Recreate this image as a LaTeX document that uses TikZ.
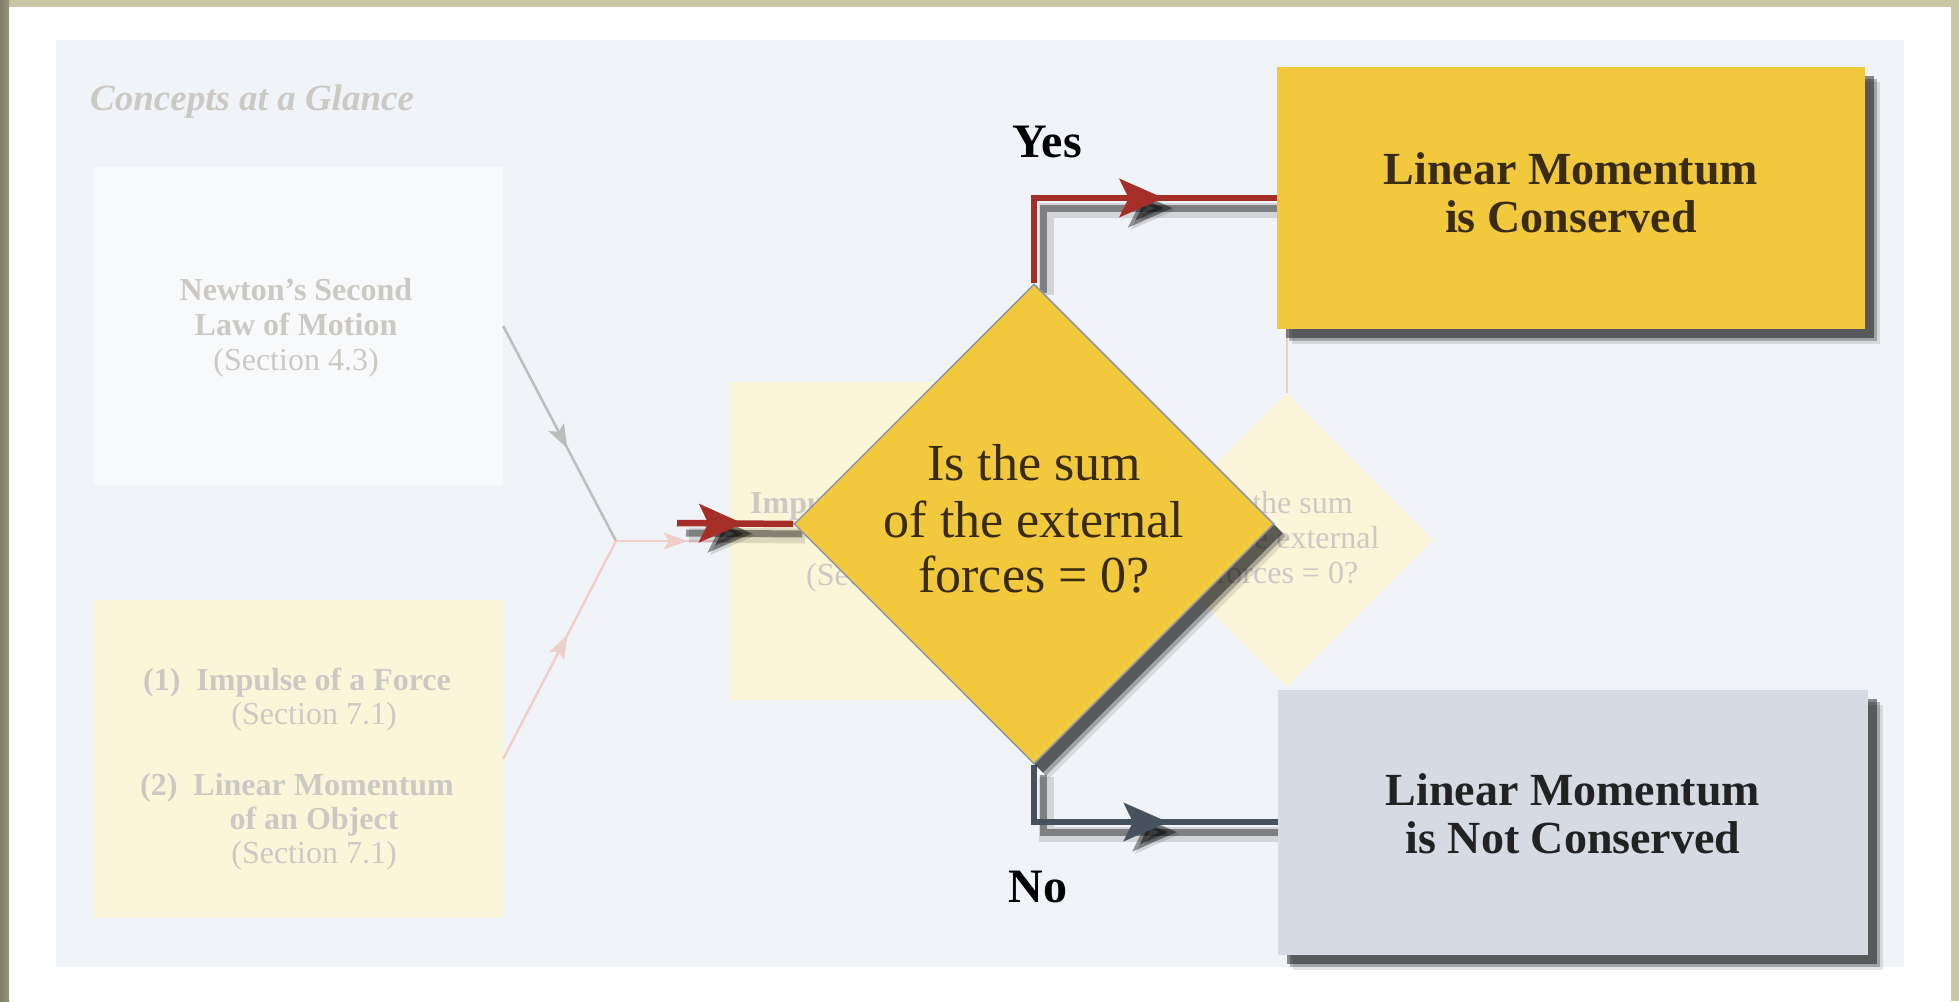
\documentclass[tikz,border=0pt]{standalone}
\usepackage{fontspec}
\setmainfont{Liberation Serif}
\usetikzlibrary{shapes.geometric,arrows.meta,decorations.markings,shadows}
\pgfdeclarelayer{ghostlayer}
\pgfdeclarelayer{connlayer}
\pgfsetlayers{ghostlayer,connlayer,main}
\definecolor{khaki}{HTML}{C9C6A6}
\definecolor{khakidark}{HTML}{7E7D66}
\definecolor{panel}{HTML}{F0F3F7}
\definecolor{ghostwhite}{HTML}{F8F9FB}
\definecolor{ghostyellow}{HTML}{FBF6DA}
\definecolor{ghosttext}{HTML}{CCC9C4}
\definecolor{ghostgray}{HTML}{BDBDBD}
\definecolor{ghostpink}{HTML}{F0CFCB}
\definecolor{gold}{HTML}{F2C83C}
\definecolor{slatefill}{HTML}{D6DAE3}
\definecolor{arrred}{HTML}{A62E29}
\definecolor{arrslate}{HTML}{46525E}
\definecolor{edgecol}{HTML}{8E96A8}
\definecolor{inkbrown}{HTML}{3A2C14}
\definecolor{inkdark}{HTML}{222222}
\tikzset{
  ghostrect/.style={rectangle, inner sep=0pt, fill=ghostyellow},
  ghosttxt/.style={text=ghosttext, anchor=base, inner sep=0pt, font=\fontsize{32}{35}\selectfont},
  ghostbold/.style={ghosttxt, font=\fontsize{32}{35}\selectfont\bfseries},
  boxshadow/.style={
    drop shadow={shadow xshift=15pt, shadow yshift=-15pt, opacity=0.10, fill=black},
    drop shadow={shadow xshift=12pt, shadow yshift=-12pt, opacity=0.25, fill=black},
    drop shadow={shadow xshift=9pt, shadow yshift=-9pt, opacity=0.45, fill=black}},
  resultbox/.style={rectangle, inner sep=0pt, minimum width=588pt, minimum height=262pt, boxshadow},
  resulttxt/.style={align=center, inner sep=0pt, font=\fontsize{46}{48}\selectfont\bfseries},
  qline/.style={anchor=base, inner sep=0pt, text=inkbrown, font=\fontsize{52}{56}\selectfont},
  bigtip/.style={decoration={markings, mark=at position #1 with
    {\arrow{Stealth[length=44pt,width=38pt,inset=9pt]}}}, postaction={decorate}},
  smalltip/.style={decoration={markings, mark=at position #1 with
    {\arrow{Stealth[length=24pt,width=17pt,inset=5pt]}}}, postaction={decorate}},
  redline/.style={draw=arrred, line width=6.5pt},
  slateline/.style={draw=arrslate, line width=6.5pt},
  shadowsoft/.style={draw=black, opacity=0.12, line width=15pt,
    transform canvas={xshift=12pt, yshift=-12pt}},
  shadowhard/.style={draw=black, opacity=0.40, line width=7pt,
    transform canvas={xshift=9pt, yshift=-10pt}},
  lbl/.style={anchor=base, inner sep=0pt, font=\fontsize{48}{50}\selectfont\bfseries}
}
\begin{document}
\begin{tikzpicture}[x=1pt,y=-1pt]
\useasboundingbox (0,0) rectangle (1959,1001);
\begin{pgfonlayer}{ghostlayer}
% frame
\fill[khaki] (0,0) rectangle (1959,1001);
\shade[left color=khakidark, right color=khaki!75!black] (0,0) rectangle (9,1001);
\fill[white] (9,7) rectangle (1951,1001);
\fill[panel] (56,40) rectangle (1904,967);

% faded background layer
\node[anchor=base west, inner sep=0pt, text=ghosttext,
  font=\fontsize{37}{40}\selectfont\bfseries\itshape] (title) at (90,110) {Concepts at a Glance};

\node[ghostrect, fill=ghostwhite, minimum width=409pt, minimum height=318pt] (newton) at (298.5,326) {};
\node[ghostbold] (n1) at (296,300) {Newton’s Second};
\node[ghostbold] (n2) at (296,335) {Law of Motion};
\node[ghosttxt] (n3) at (296,370) {(Section 4.3)};

\node[ghostrect, minimum width=409pt, minimum height=318pt] (momentum) at (298.5,759) {};
\node[ghostbold] (m1) at (297,690) {(1)\enspace Impulse of a Force};
\node[ghosttxt] (m2) at (314,724) {(Section 7.1)};
\node[ghostbold] (m3) at (297,795) {(2)\enspace Linear Momentum};
\node[ghostbold] (m4) at (314,829) {of an Object};
\node[ghosttxt] (m5) at (314,863) {(Section 7.1)};

\coordinate (j) at (616,541);
\draw[ghostgray, line width=2.5pt, smalltip=0.57] (newton.east) -- (j);
\draw[ghostpink, line width=2.5pt, smalltip=0.57] (momentum.east) -- (j);

\node[ghostrect, minimum width=300pt, minimum height=318pt] (theorem) at (880,541) {};
\node[ghostbold, anchor=base west] (t1) at (750,513) {Impulse};
\node[ghosttxt, anchor=base west] (t3) at (806,585) {(Section};
\draw[ghostpink, line width=2.5pt, smalltip=0.63] (j) -- (theorem.west);

\node[diamond, aspect=1, inner sep=0pt, minimum width=294pt, minimum height=294pt,
  fill=ghostyellow] (ghost) at (1287,540) {};
\node[ghosttxt] (g1) at (1287,513) {Is the sum};
\node[ghosttxt] (g2) at (1287,548) {of the external};
\node[ghosttxt] (g3) at (1287,583) {forces = 0?};
\end{pgfonlayer}

% result boxes
\node[resultbox, fill=gold] (yes) at (1571,198) {};
\node[resulttxt, text=inkbrown] (yestext) at (1571,193) {Linear Momentum\\is Conserved};
\node[resultbox, fill=slatefill, minimum width=590pt, minimum height=265pt] (no) at (1573,822) {};
\node[resulttxt, text=inkdark] (notext) at (1573,814) {Linear Momentum\\is Not Conserved};

% decision diamond
\node[diamond, aspect=1, inner sep=0pt, minimum width=480pt, minimum height=480pt,
  fill=gold, draw=edgecol, line width=1.5pt, boxshadow] (q) at (1034,524) {};
\node[qline] (q1) at (1034,480) {Is the sum};
\node[qline] (q2) at (1034,537) {of the external};
\node[qline] (q3) at (1034,592) {forces = 0?};

\begin{pgfonlayer}{connlayer}
\draw[ghostpink, line width=2pt] (ghost.north) -- (ghost.north |- yes.south);
\coordinate (in) at (677,523);
\draw[shadowsoft, bigtip=0.57] (in) -- (q.west);
\draw[shadowhard, bigtip=0.57] (in) -- (q.west);
\draw[redline, bigtip=0.57] (in) -- (q.west);

\draw[shadowsoft, bigtip=0.655] (q.north) |- (yes.west);
\draw[shadowhard, bigtip=0.655] (q.north) |- (yes.west);
\draw[redline, bigtip=0.655] (q.north) |- (yes.west);

\draw[shadowsoft, bigtip=0.635] (q.south) |- (no.west);
\draw[shadowhard, bigtip=0.635] (q.south) |- (no.west);
\draw[slateline, bigtip=0.635] (q.south) |- (no.west);
\end{pgfonlayer}

% labels
\node[lbl] (yeslbl) at (1047,157) {Yes};
\node[lbl] (nolbl) at (1038,902) {No};
\end{tikzpicture}
\end{document}
